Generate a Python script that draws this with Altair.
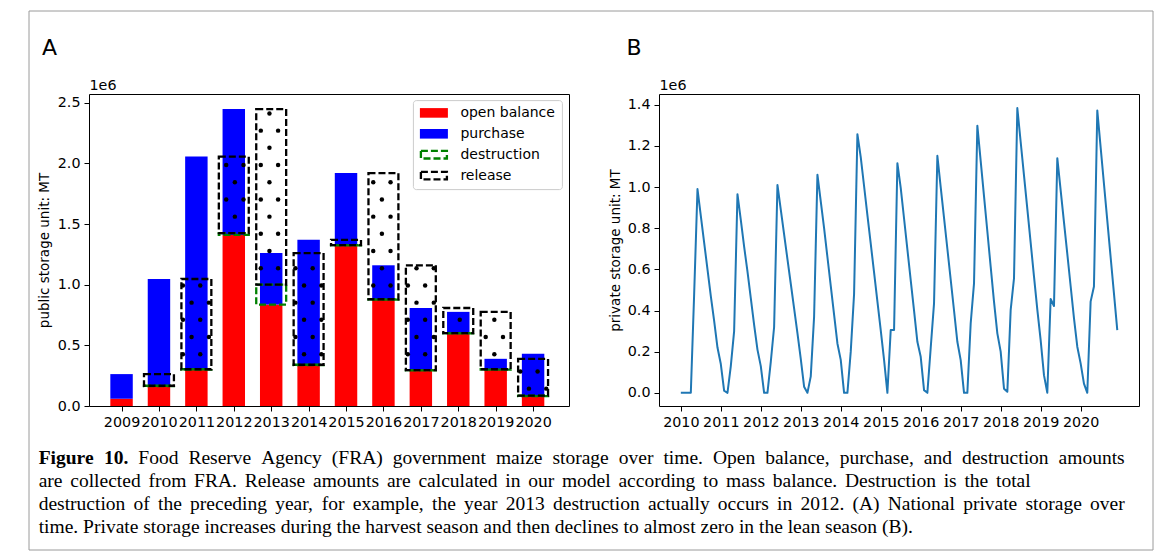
import altair as alt
import pandas as pd
import numpy as np

# ---------------- data ----------------
years = list(range(2009, 2021))
# public storage, million MT
open_balance = [0.060, 0.164, 0.300, 1.410, 0.836, 0.337, 1.324, 0.877, 0.293, 0.598, 0.300, 0.082]
purchase = [0.203, 0.883, 1.756, 1.038, 0.425, 1.033, 0.596, 0.283, 0.515, 0.178, 0.089, 0.348]
destruction = [None, 0.003, 0.003, 0.015, 0.164, 0.003, 0.003, 0.003, 0.003, 0.003, 0.003, 0.003]
release = [None, 0.096, 0.744, 0.631, 1.448, 0.921, 0.043, 1.040, 0.864, 0.207, 0.473, 0.304]
legend_labels = ["open balance", "purchase", "destruction", "release"]

# private storage, million MT, monthly from Jan 2010
private_start = 2010
private_storage = [
    0.000, 0.000, 0.000, 0.000, 0.480, 0.990, 0.860, 0.730, 0.600, 0.470, 0.350, 0.220,
    0.140, 0.010, 0.000, 0.130, 0.300, 0.965, 0.840, 0.710, 0.590, 0.460, 0.330, 0.210,
    0.130, 0.000, 0.000, 0.150, 0.320, 1.010, 0.890, 0.770, 0.650, 0.530, 0.410, 0.290,
    0.165, 0.030, 0.000, 0.080, 0.370, 1.060, 0.930, 0.800, 0.660, 0.520, 0.380, 0.240,
    0.160, 0.000, 0.000, 0.200, 0.480, 1.257, 1.145, 1.005, 0.864, 0.725, 0.585, 0.444,
    0.305, 0.160, 0.000, 0.305, 0.305, 1.116, 0.996, 0.847, 0.697, 0.548, 0.399, 0.248,
    0.175, 0.013, 0.000, 0.218, 0.435, 1.152, 1.000, 0.850, 0.700, 0.550, 0.400, 0.248,
    0.159, 0.000, 0.000, 0.337, 0.532, 1.298, 1.127, 0.956, 0.785, 0.613, 0.443, 0.289,
    0.200, 0.020, 0.005, 0.402, 0.556, 1.384, 1.220, 1.057, 0.894, 0.730, 0.566, 0.404,
    0.256, 0.086, 0.000, 0.456, 0.422, 1.140, 0.985, 0.829, 0.675, 0.519, 0.363, 0.224,
    0.143, 0.045, 0.000, 0.443, 0.517, 1.372, 1.194, 1.016, 0.838, 0.660, 0.483, 0.305,
]

a_yticks = [0.0, 0.5, 1.0, 1.5, 2.0, 2.5]
b_yticks = [0.0, 0.2, 0.4, 0.6, 0.8, 1.0, 1.2, 1.4]
b_xticks = list(range(2010, 2021))

caption_bold = "Figure 10."
caption_lines = [
    "Food Reserve Agency (FRA) government maize storage over time. Open balance, purchase, and destruction amounts",
    "are collected from FRA. Release amounts are calculated in our model according to mass balance. Destruction is the total",
    "destruction of the preceding year, for example, the year 2013 destruction actually occurs in 2012. (A) National private storage over",
    "time. Private storage increases during the harvest season and then declines to almost zero in the lean season (B).",
]

# ---------------- layout constants ----------------
W, H = 480, 312
XA = [2008.13, 2020.96]
YA = [0.0, 2.572]
XB = [2009.454, 2021.46]
YB = [-0.064, 1.452]
RED, BLUE, GREEN, LINE = "#ff0000", "#0000ff", "#008000", "#1f77b4"
SANS = "DejaVu Sans"
SERIF = "Liberation Serif"
DASH = [7, 3]
LW = 2.3
TICKFS = 14.3

# ---------------- derived tables ----------------
bars = pd.DataFrame({"year": years, "ob": open_balance, "pur": purchase,
                     "des": destruction, "rel": release})
bars["zero"] = 0.0
bars["pur_top"] = bars["ob"] + bars["pur"]
bars["bx0"] = bars["year"] - 0.3
bars["bx1"] = bars["year"] + 0.3
boxes = bars.dropna().copy()
boxes["des_top"] = boxes["ob"] + boxes["des"]
boxes["rel_top"] = boxes["des_top"] + boxes["rel"]
boxes["rx0"] = boxes["year"] - 0.4
boxes["rx1"] = boxes["year"] + 0.4

# hatch '.' texture of the release boxes (screen-space lattice turned into data units)
ypx = (YA[1] - YA[0]) / H
xpx = (XA[1] - XA[0]) / W
sx, sy = 17.3 * xpx, 34.4 * ypx
ax0, ay0 = 2012.722, 2.270
dots = []
for i in range(-40, 40):
    for j in range(-20, 20):
        for ox, oy in [(0.0, 0.0), (0.5, -0.5)]:
            x = ax0 + (i + ox) * sx
            y = ay0 + (j + oy) * sy
            for _, r in boxes.iterrows():
                if r.rx0 + 1.5 * xpx < x < r.rx1 - 0.5 * xpx and r.des_top + 1.5 * ypx < y < r.rel_top - 1.5 * ypx:
                    dots.append({"x": x, "y": y})
dots = pd.DataFrame(dots)

priv = pd.DataFrame({"t": [private_start + i / 12 for i in range(len(private_storage))],
                     "v": private_storage})

one = pd.DataFrame({"k": [0]})

# ---------------- caption typesetting (Times metrics) ----------------
TR = {" ": 250, "(": 333, ")": 333, ",": 250, "-": 333, ".": 250, ":": 278,
      "A": 722, "B": 667, "C": 667, "D": 722, "E": 611, "F": 556, "G": 722, "H": 722, "I": 333,
      "J": 389, "K": 722, "L": 611, "M": 889, "N": 722, "O": 722, "P": 556, "Q": 722, "R": 667,
      "S": 556, "T": 611, "U": 722, "V": 722, "W": 944, "X": 722, "Y": 722, "Z": 611,
      "a": 444, "b": 500, "c": 444, "d": 500, "e": 444, "f": 333, "g": 500, "h": 500, "i": 278,
      "j": 278, "k": 500, "l": 278, "m": 778, "n": 500, "o": 500, "p": 500, "q": 500, "r": 333,
      "s": 389, "t": 278, "u": 500, "v": 500, "w": 722, "x": 500, "y": 500, "z": 444}
TB = {"F": 611, "i": 278, "g": 500, "u": 556, "r": 444, "e": 444, " ": 250, ".": 250}


def wem(s, table):
    return sum(table.get(c, 500) for c in s) / 1000.0


ORIGIN_X = 88.3                       # page x of panel A plot origin
CAP_L = 38.0 - ORIGIN_X
CAP_ENDS = [1124.0, 1030.0, 1124.0, None]   # page x where each caption line ends
CAP_Y0, CAP_LH = 370.0, 23.0
CAPFS = 19.5
words = []
for li, line in enumerate(caption_lines):
    toks = [(w, False) for w in line.split(" ")]
    if li == 0:
        toks = [(w, True) for w in caption_bold.split(" ")] + toks
    widths = [wem(w, TB if b else TR) * CAPFS for w, b in toks]
    end = CAP_ENDS[li]
    gap = 0.25 * CAPFS
    if end is not None:
        gap = max(gap, (end - ORIGIN_X - CAP_L - sum(widths)) / (len(toks) - 1))
    x = CAP_L
    for (w, b), wd in zip(toks, widths):
        words.append({"text": w, "bold": b, "px": x, "py": CAP_Y0 + CAP_LH * li})
        x += wd + gap
words = pd.DataFrame(words)


def cap_layer(bold):
    d = words[words["bold"] == bold]
    return alt.Chart(d).mark_text(align="left", baseline="alphabetic", font=SERIF, fontSize=CAPFS,
                                  fontWeight="bold" if bold else "normal", color="black").encode(
        x=alt.X("px:Q", scale=None, axis=None), y=alt.Y("py:Q", scale=None, axis=None), text="text:N")


# ---------------- panel A ----------------
xa_axis = alt.Axis(values=years, format="d", labelOverlap=False, labelFlush=False, title=None)
ya_axis = alt.Axis(values=a_yticks, format=".1f", title="public storage unit: MT", titlePadding=6)
xa_scale = alt.Scale(domain=XA, nice=False, zero=False)
ya_scale = alt.Scale(domain=YA, nice=False, zero=False)

base = alt.Chart(bars)
red = base.mark_rect(color=RED).encode(
    x=alt.X("bx0:Q", scale=xa_scale, axis=xa_axis), x2="bx1:Q",
    y=alt.Y("zero:Q", scale=ya_scale, axis=ya_axis), y2="ob:Q")
blue = base.mark_rect(color=BLUE).encode(
    x=alt.X("bx0:Q"), x2="bx1:Q", y=alt.Y("ob:Q"), y2="pur_top:Q")
bbase = alt.Chart(boxes)
green = bbase.mark_rect(filled=False, stroke=GREEN, strokeWidth=LW, strokeDash=DASH).encode(
    x=alt.X("rx0:Q"), x2="rx1:Q", y=alt.Y("ob:Q"), y2="des_top:Q")
black = bbase.mark_rect(filled=False, stroke="black", strokeWidth=LW, strokeDash=DASH).encode(
    x=alt.X("rx0:Q"), x2="rx1:Q", y=alt.Y("des_top:Q"), y2="rel_top:Q")
dotl = alt.Chart(dots).mark_circle(size=20, color="black", opacity=1).encode(
    x=alt.X("x:Q"), y=alt.Y("y:Q"))

# legend (manual, matplotlib style)
LX0, LY0 = 324.4, 6.6
leg = [alt.Chart(one).mark_rect(fill="white", stroke="#cccccc", strokeWidth=1, cornerRadius=3).encode(
    x=alt.value(LX0), x2=alt.value(LX0 + 149), y=alt.value(LY0), y2=alt.value(LY0 + 89))]
for k, lab in enumerate(legend_labels):
    cy = LY0 + 12.3 + 20.9 * k
    if k < 2:
        sym = alt.Chart(one).mark_rect(color=[RED, BLUE][k]).encode(
            x=alt.value(LX0 + 6.5), x2=alt.value(LX0 + 34.5), y=alt.value(cy - 4.8), y2=alt.value(cy + 4.8))
    else:
        sym = alt.Chart(one).mark_rect(filled=False, stroke=[GREEN, "black"][k - 2], strokeWidth=LW,
                                       strokeDash=DASH).encode(
            x=alt.value(LX0 + 7.5), x2=alt.value(LX0 + 33.5), y=alt.value(cy - 3.8), y2=alt.value(cy + 3.8))
    txt = alt.Chart(one).mark_text(text=lab, align="left", baseline="middle", font=SANS,
                                   fontSize=14, color="black").encode(
        x=alt.value(LX0 + 47), y=alt.value(cy + 0.5))
    leg += [sym, txt]

# decorations placed relative to panel A's plot origin
deco = []
deco.append(alt.Chart(one).mark_rect(filled=False, stroke="#9a9a9a", strokeWidth=1).encode(
    x=alt.value(-60), x2=alt.value(1064), y=alt.value(-83), y2=alt.value(456)))
deco.append(alt.Chart(one).mark_text(text="A", align="left", baseline="alphabetic", font=SANS,
                                     fontSize=22, color="black").encode(x=alt.value(-47), y=alt.value(-39.5)))
deco.append(alt.Chart(one).mark_text(text="B", align="left", baseline="alphabetic", font=SANS,
                                     fontSize=22, color="black").encode(x=alt.value(537.5), y=alt.value(-39.5)))
deco.append(alt.Chart(one).mark_text(text="1e6", align="left", baseline="alphabetic", font=SANS,
                                     fontSize=TICKFS, color="black").encode(x=alt.value(0.5), y=alt.value(-4.5)))

inner_a = alt.layer(red, blue, green, black, dotl, *leg, *deco)
panel_a = alt.layer(inner_a, cap_layer(False), cap_layer(True)).resolve_scale(
    x="independent", y="independent").properties(width=W, height=H)

# ---------------- panel B ----------------
line = alt.Chart(priv).mark_line(color=LINE, strokeWidth=2, strokeJoin="round").encode(
    x=alt.X("t:Q", scale=alt.Scale(domain=XB, nice=False, zero=False),
            axis=alt.Axis(values=b_xticks, format="d", labelOverlap=False, labelFlush=False, title=None)),
    y=alt.Y("v:Q", scale=alt.Scale(domain=YB, nice=False, zero=False),
            axis=alt.Axis(values=b_yticks, format=".1f", title="private storage unit: MT", titlePadding=5)))
e6b = alt.Chart(one).mark_text(text="1e6", align="left", baseline="alphabetic", font=SANS,
                               fontSize=TICKFS, color="black").encode(x=alt.value(0.5), y=alt.value(-4.5))
panel_b = alt.layer(line, e6b).properties(width=W, height=H)

chart = alt.hconcat(panel_a, panel_b, spacing=90, bounds="flush").properties(
    padding={"left": 20, "top": 2, "right": 0, "bottom": 0},
    background="white",
).configure_view(stroke="black", strokeWidth=1).configure_axis(
    labelFont=SANS, labelFontSize=TICKFS, labelColor="black", labelPadding=4,
    tickColor="black", tickSize=5, tickWidth=1, domain=False, grid=False,
    titleFont=SANS, titleFontSize=13.5, titleFontWeight="normal", titleColor="black",
)

chart.save("out.html", embed_options={"renderer": "svg", "actions": False})
